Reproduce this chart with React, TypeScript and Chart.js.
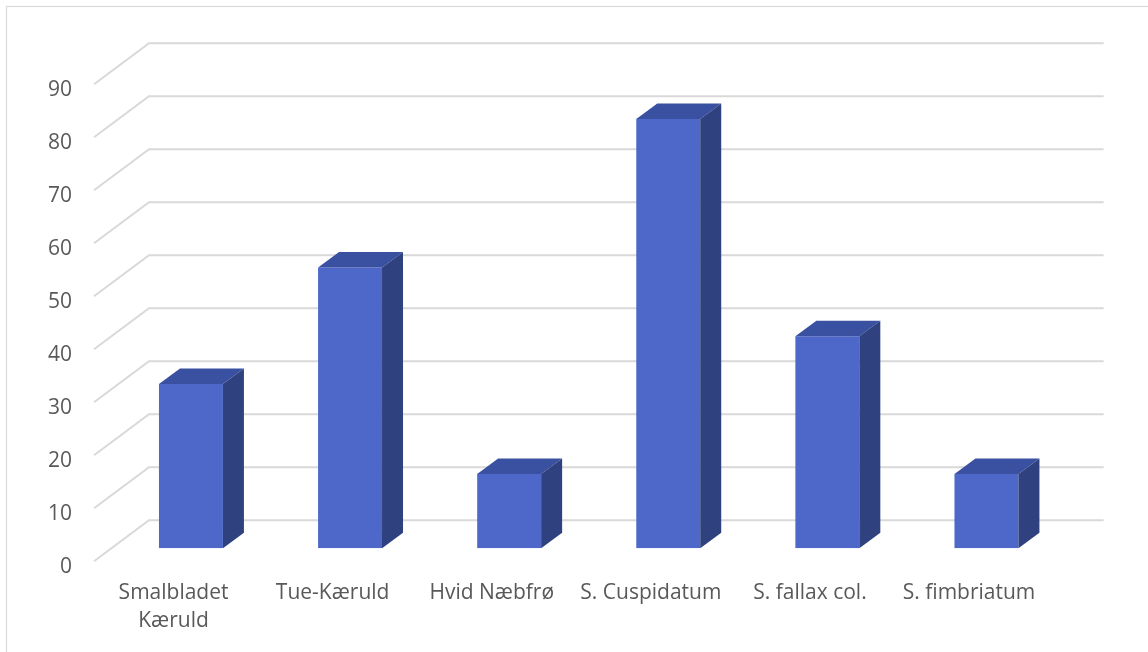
import { useEffect, useRef } from "react";
import { Chart, registerables } from "chart.js";

Chart.register(...registerables);

// Species and their counts
const categories: (string | string[])[] = [
  ["Smalbladet", "Kæruld"],
  "Tue-Kæruld",
  "Hvid Næbfrø",
  "S. Cuspidatum",
  "S. fallax col.",
  "S. fimbriatum",
];
const counts: number[] = [31, 53, 14, 81, 40, 14];
const yTicks: number[] = [0, 10, 20, 30, 40, 50, 60, 70, 80, 90];

const W = 1148;
const H = 652;

const FRONT_COLOR = "#4D68C8";
const TOP_COLOR = "#3A50A0";
const SIDE_COLOR = "#30417F";
const GRID_COLOR = "#D9D9D9";
const TEXT_COLOR = "#595959";
const FONT = '21px "Open Sans"';

// Oblique depth offsets, measured from the plane of the bars' front faces
const BAR_DX = 21;
const BAR_DY = 15.5;
const BACK_DX = 37.6;
const BACK_DY = 28;
const FRONT_DX = -17.4;
const FRONT_DY = 13;

const depthPlugin = {
  id: "depth3d",
  beforeDraw(chart: any) {
    const { ctx } = chart;
    ctx.save();
    ctx.fillStyle = "#ffffff";
    ctx.fillRect(0, 0, W, H);
    ctx.strokeStyle = GRID_COLOR;
    ctx.lineWidth = 1.2;
    ctx.strokeRect(6.5, 6.5, W + 40, H + 40);
    ctx.restore();
  },
  beforeDatasetsDraw(chart: any) {
    const { ctx, chartArea, scales } = chart;
    const ys = scales.y;
    const xs = scales.x;
    ctx.save();

    // back wall gridlines with the side-wall diagonals
    ctx.strokeStyle = GRID_COLOR;
    ctx.lineWidth = 2;
    ctx.lineJoin = "miter";
    yTicks.forEach((v) => {
      const py = ys.getPixelForValue(v);
      ctx.beginPath();
      ctx.moveTo(chartArea.left + FRONT_DX, py + FRONT_DY);
      ctx.lineTo(chartArea.left + BACK_DX, py - BACK_DY);
      ctx.lineTo(chartArea.right + BACK_DX, py - BACK_DY);
      ctx.stroke();
    });

    // value axis labels
    ctx.fillStyle = TEXT_COLOR;
    ctx.font = FONT;
    ctx.textAlign = "right";
    ctx.textBaseline = "middle";
    yTicks.forEach((v) => {
      const py = ys.getPixelForValue(v);
      ctx.fillText(String(v), chartArea.left + FRONT_DX - 22, py + FRONT_DY + 5.5);
    });

    // category labels
    ctx.textAlign = "center";
    const baseY = ys.getPixelForValue(0) + FRONT_DY + 32;
    categories.forEach((label, i) => {
      const px = xs.getPixelForValue(i) + FRONT_DX;
      const lines = Array.isArray(label) ? label : [label];
      lines.forEach((line, j) => ctx.fillText(line, px, baseY + j * 28));
    });

    ctx.restore();
  },
  afterDatasetsDraw(chart: any) {
    const { ctx } = chart;
    const meta = chart.getDatasetMeta(0);
    ctx.save();
    meta.data.forEach((bar: any) => {
      const { x, y, base, width } = bar.getProps(["x", "y", "base", "width"], true);
      const l = x - width / 2;
      const r = x + width / 2;
      // top face
      ctx.fillStyle = TOP_COLOR;
      ctx.beginPath();
      ctx.moveTo(l, y);
      ctx.lineTo(l + BAR_DX, y - BAR_DY);
      ctx.lineTo(r + BAR_DX, y - BAR_DY);
      ctx.lineTo(r, y);
      ctx.closePath();
      ctx.fill();
      // side face
      ctx.fillStyle = SIDE_COLOR;
      ctx.beginPath();
      ctx.moveTo(r, y);
      ctx.lineTo(r + BAR_DX, y - BAR_DY);
      ctx.lineTo(r + BAR_DX, base - BAR_DY);
      ctx.lineTo(r, base);
      ctx.closePath();
      ctx.fill();
    });
    ctx.restore();
  },
};

export default function App() {
  const canvasRef = useRef<HTMLCanvasElement | null>(null);

  useEffect(() => {
    if (!canvasRef.current) return;
    const chart = new Chart(canvasRef.current, {
      type: "bar",
      data: {
        labels: categories,
        datasets: [
          {
            data: counts,
            backgroundColor: FRONT_COLOR,
            borderWidth: 0,
            categoryPercentage: 1,
            barPercentage: 0.402,
          },
        ],
      },
      options: {
        responsive: false,
        animation: false,
        events: [],
        layout: {
          padding: { left: 111.4, right: W - 1066, top: 71.3, bottom: H - 548.3 },
        },
        plugins: {
          legend: { display: false },
          tooltip: { enabled: false },
        },
        scales: {
          x: { display: false, offset: true },
          y: { display: false, min: 0, max: 90 },
        },
      },
      plugins: [depthPlugin],
    });
    return () => chart.destroy();
  }, []);

  return (
    <div style={{ position: "fixed", left: 0, top: 0, width: W, height: H, background: "#fff" }}>
      <canvas ref={canvasRef} width={W} height={H} style={{ display: "block" }} />
    </div>
  );
}
